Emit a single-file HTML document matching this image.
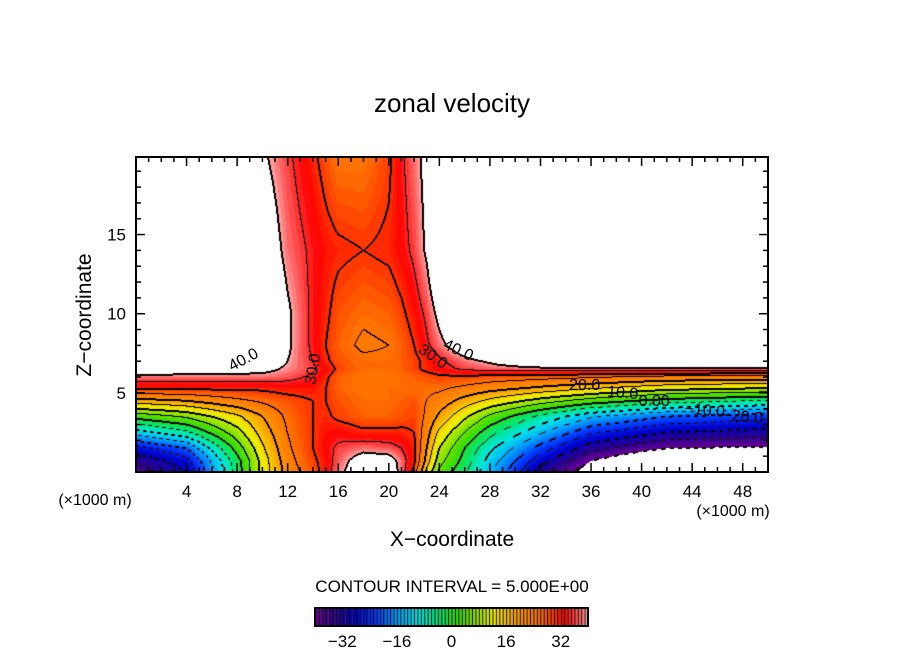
<!DOCTYPE html>
<html><head><meta charset="utf-8"><style>
body{margin:0;background:#fff;}
#wrap{position:relative;width:904px;height:654px;overflow:hidden;font-family:"Liberation Sans",sans-serif;}
canvas,svg{position:absolute;left:0;top:0;}
</style></head><body>
<div id="wrap">
<canvas id="field" width="632" height="315" style="left:136px;top:157px"></canvas>
<canvas id="cbar" width="273" height="18" style="left:315px;top:608px"></canvas>
<svg id="ov" width="904" height="654">
<text x="452" y="112" font-size="26" text-anchor="middle" font-family="Liberation Sans">zonal velocity</text>
<text x="452" y="546" font-size="21" text-anchor="middle">X−coordinate</text>
<text transform="translate(91,315) rotate(-90)" font-size="21" text-anchor="middle">Z−coordinate</text>
<text x="95" y="505" font-size="16" text-anchor="middle">(×1000 m)</text>
<text x="733" y="516" font-size="16" text-anchor="middle">(×1000 m)</text>
<text x="452" y="592" font-size="17" text-anchor="middle">CONTOUR INTERVAL = 5.000E+00</text>
<g id="ticks"></g>
<g id="clabels" font-size="16"></g>
<rect x="136" y="157" width="632" height="315" fill="none" stroke="#000" stroke-width="2"/>
<rect x="315" y="608" width="273" height="18" fill="none" stroke="#000" stroke-width="2"/>
</svg>
</div>
<script>
const xs=[0,4,8,10,12,14,15,16,18,20,21,22,23,24,26,28,32,36,42,50];
const zs=[0,0.7,1.5,2.5,3.5,4.5,5.3,6,6.5,7,8,10,14,20];
const grid=[
[-38,-30,-3,12,22,28,32,38,46,45,38,28,14,4,-4,-14,-32,-44,-55,-55],
[-34,-27,-2,12,23,29,32,37,44,43,38,31,18,7,-2,-12,-28,-40,-50,-50],
[-27,-20,2,14,24,30,33,36,38,37,35,31,20,10,0,-9,-22,-33,-40,-41],
[-12,-6,8,17,25,30,32,33,31,31,31,30,22,14,5,-3,-14,-24,-30,-32],
[2,6,14,20,26,30,31,29,27,27,28,29,24,19,11,4,-6,-14,-20,-23],
[18,20,24,26,28,30,30,28,26,26,27,28,25,23,18,14,8,3,-2,-5],
[31,31,31,31,32,32,30,27,25,26,26,26,26,26,24,22,19,16,12,10],
[38,38,38,38,37,34,31,27,25,25,26,27,28,29,29,28,27,26,24,23],
[45,44,43,42,39,36,33,29,26,26,27,29,31,33,36,37,38,38,38,38],
[55,55,50,44,40,35,31,28,26,26,27,29,31,34,38,41,48,55,55,55],
[60,60,58,48,41,34,30,27,24,25,27,30,34,38,45,52,60,60,60,60],
[60,60,60,50,41,34,31,28,26,27,29,32,36,42,55,60,60,60,60,60],
[60,60,60,46,38,34,32,31,30,31,33,36,41,50,60,60,60,60,60,60],
[60,60,52,41,36,31,28,25,25,29,34,38,42,55,60,60,60,60,60,60]];
const cbMin=-40, cbMax=40, interval=5;
const xTicks=[4,8,12,16,20,24,28,32,36,40,44,48];
const zTicks=[5,10,15];
const cbTicks=[-32,-16,0,16,32];
const cLabels=[["40.0",8.5,7.1,-28],["30.0",14,6.5,-80],["30.0",23.5,7.3,35],["40.0",25.5,7.7,25],["20.0",35.5,5.5,0],["10.0",38.5,5.0,5],["0.00",41,4.5,0],["−10.0",45,3.9,5],["−20.0",48,3.5,5]];

const W=632,H=315,zTop=19.9;
const sx=x=>136+x/50*W, sz=z=>157+(zTop-z)/zTop*H;
function seg(arr,v){let i=0;while(i<arr.length-2&&v>arr[i+1])i++;const t=Math.max(0,Math.min(1,(v-arr[i])/(arr[i+1]-arr[i])));return [i,t];}
function val(x,z){const [i,tx]=seg(xs,x),[j,tz]=seg(zs,z);
 const a=grid[j][i],b=grid[j][i+1],c=grid[j+1][i],d=grid[j+1][i+1];
 return (a*(1-tx)+b*tx)*(1-tz)+(c*(1-tx)+d*tx)*tz;}
const stops=[[-40,110,0,150],[-34,40,0,140],[-28,0,0,200],[-22,0,60,255],[-16,0,160,255],[-10,0,230,230],[-4,0,230,120],[2,60,220,0],[8,160,230,0],[12,240,240,0],[20,255,150,0],[26,255,110,0],[30,255,50,0],[33,255,0,0],[35,255,40,40],[38,255,110,110],[40,255,170,170]];
function col(v){if(v>cbMax||v<cbMin)return [255,255,255];
 for(let k=0;k<stops.length-1;k++){if(v<=stops[k+1][0]){const t=(v-stops[k][0])/(stops[k+1][0]-stops[k][0]);return [0,1,2].map(m=>Math.round(stops[k][m+1]*(1-t)+stops[k+1][m+1]*t));}}
 return stops[stops.length-1].slice(1);}
const fc=document.getElementById('field').getContext('2d');
const img=fc.createImageData(W,H);const V=new Float32Array(W*H);
for(let py=0;py<H;py++)for(let px=0;px<W;px++)V[py*W+px]=val((px+0.5)/W*50,zTop-(py+0.5)/H*zTop);
const black=new Uint8Array(W*H);
for(let py=0;py<H;py++)for(let px=0;px<W;px++){
 const v=V[py*W+px];const L=Math.floor(v/interval);
 const c0=col(Math.floor(v)+0.5);const o=(py*W+px)*4;img.data[o]=c0[0];img.data[o+1]=c0[1];img.data[o+2]=c0[2];img.data[o+3]=255;
 for(const [nx,ny] of [[px+1,py],[px,py+1]]){if(nx>=W||ny>=H)continue;
  const L2=Math.floor(V[ny*W+nx]/interval);if(L2===L)continue;
  const c=Math.max(L,L2)*interval;if(c>cbMax||c<cbMin)continue;
  if(c<0&&Math.floor((px+py)/4)%2===1)continue;
  black[py*W+px]=1;if(c%10===0){black[ny*W+nx]=1;}}}
for(let k=0;k<W*H;k++)if(black[k]){img.data[k*4]=0;img.data[k*4+1]=0;img.data[k*4+2]=0;}
fc.putImageData(img,0,0);
const cc=document.getElementById('cbar').getContext('2d');
for(let v=cbMin;v<cbMax;v++){const c=col(v+0.5);const x0=(v-cbMin)/(cbMax-cbMin)*273;
 cc.fillStyle=`rgb(${c})`;cc.fillRect(x0,0,3.42,18);cc.fillStyle='#000';cc.fillRect(x0,0,1,18);}
const NS='http://www.w3.org/2000/svg';const tg=document.getElementById('ticks');
function line(x1,y1,x2,y2,w,name){const l=document.createElementNS(NS,'line');l.setAttribute('x1',x1);l.setAttribute('y1',y1);l.setAttribute('x2',x2);l.setAttribute('y2',y2);l.setAttribute('stroke','#000');l.setAttribute('stroke-width',w);
 
 tg.appendChild(l);}
function text(x,y,s,name,anchor){const t=document.createElementNS(NS,'text');t.setAttribute('x',x);t.setAttribute('y',y);t.setAttribute('font-size','17');t.setAttribute('text-anchor',anchor||'middle');t.textContent=s;
 
 tg.appendChild(t);}
for(let x=1;x<50;x++){const X=sx(x);const major=x%4===0;const len=major?9:5;line(X,472,X,472-len,1.5,'x-tick');line(X,157,X,157+len,1.5,'x-tick-top');}
for(let z=1;z<20;z++){const Y=sz(z);const major=z%5===0;const len=major?9:5;line(136,Y,136+len,Y,1.5,'z-tick');line(768,Y,768-len,Y,1.5,'z-tick-right');}
xTicks.forEach(x=>text(sx(x),497,String(x),'x-tick-label'));
zTicks.forEach(z=>text(126,sz(z)+6,String(z),'z-tick-label','end'));
cbTicks.forEach(v=>text(315+(v-cbMin)/(cbMax-cbMin)*273,647,v<0?'−'+(-v):String(v),'colorbar-tick-label'));
const lg=document.getElementById('clabels');
cLabels.forEach(([s,x,z,r])=>{const t=document.createElementNS(NS,'text');t.setAttribute('transform',`translate(${sx(x)},${sz(z)}) rotate(${r})`);t.setAttribute('text-anchor','middle');t.setAttribute('dy','5');t.textContent=s;
 
 lg.appendChild(t);});
</script>
</body></html>
